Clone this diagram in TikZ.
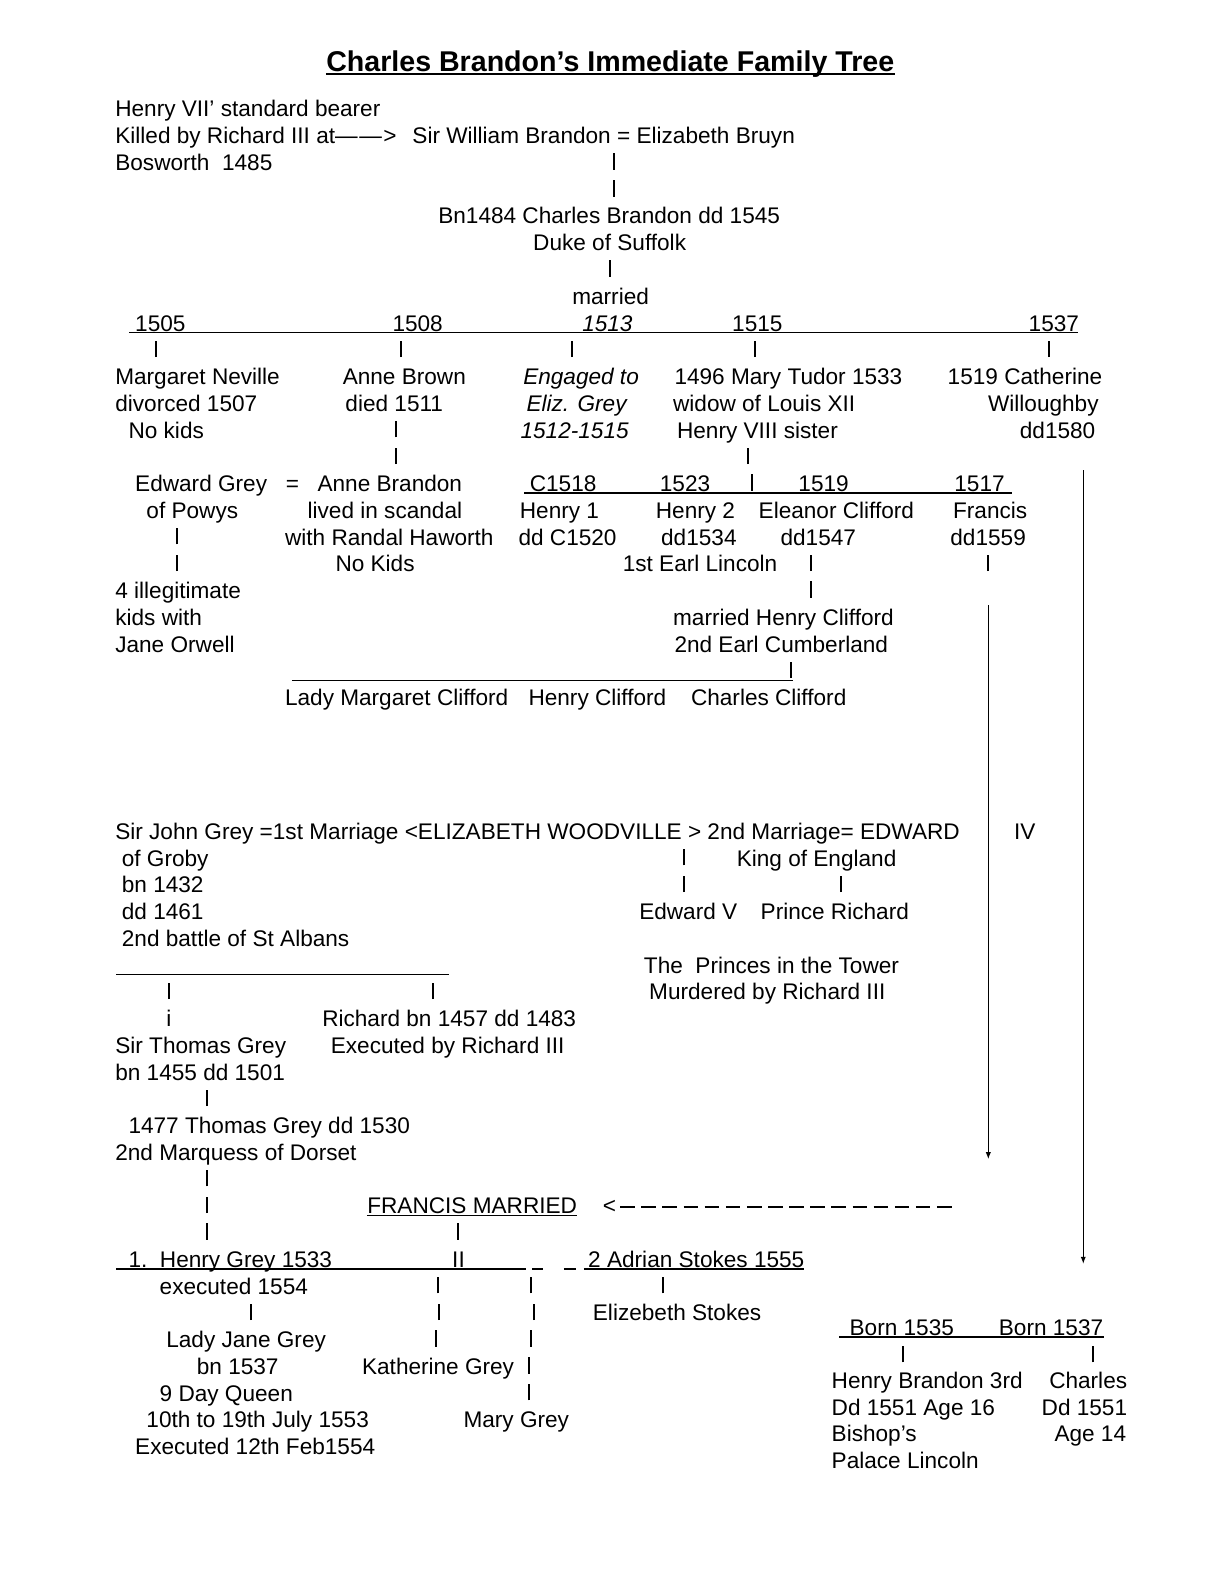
\documentclass[tikz,border=0pt]{standalone}
\usepackage{fontspec}
\setmainfont{Liberation Sans}
\usetikzlibrary{arrows.meta}
\newcommand\sorfont{\fontsize{11.3pt}{13.4pt}\selectfont}
\tikzset{
  txt/.style={anchor=base west,inner sep=0pt,xshift=-0.6pt},
  txtr/.style={anchor=base east,inner sep=0pt,xshift=0.6pt},
  itxt/.style={txt,font=\sorfont\itshape},
  vbar/.style={line width=1pt},
  uln/.style={line width=0.75pt},
  downarr/.style={line width=0.5pt,-{Latex[length=3.5pt,width=2.6pt]}},
  dashln/.style={line width=0.8pt,dash pattern=on 7.31pt off 3.25pt},
}
\begin{document}
\begin{tikzpicture}[x=0.4975pt,y=-13.375pt,font=\sorfont]
  \useasboundingbox (0pt,58.5pt) rectangle (612pt,-733.5pt);
  % title
  \node[txt,font=\fontsize{14.3pt}{17pt}\selectfont\bfseries] (cim) at (328.7,-1.716)
    {Charles Brandon’s Immediate Family Tree};
  \draw[line width=0.9pt] ([yshift=-1.3pt]cim.base west) -- ([yshift=-1.3pt]cim.base east);

  % Brandon line
  \node[txt] (hb) at (116.7,0) {Henry VII’ standard bearer};
  \node[txt] (kb) at (116.7,1) {Killed by Richard III at—\kern0.8pt—\kern0.8pt>};
  \node[txt] (wb) at (415.3,1) {Sir William Brandon = Elizabeth Bruyn};
  \node[txt] (bw) at (116.7,2) {Bosworth\ \ 1485};
  \node[txt] (cb) at (441.3,4) {Bn1484 Charles Brandon dd 1545};
  \node[txt] (ds) at (536.7,5) {Duke of Suffolk};
  \node[txt] (mar) at (576,7) {married};

  % wives
  \node[txt] (w1505) at (136.7,8) {1505};
  \node[txt] (w1508) at (395.3,8) {1508};
  \node[itxt] (w1513) at (586,8) {1513};
  \node[txt] (w1515) at (736.7,8) {1515};
  \node[txt] (w1537) at (1034.7,8) {1537};
  \node[txt] (mn1) at (116.7,10) {Margaret Neville};
  \node[txt] (mn2) at (116.7,11) {divorced 1507};
  \node[txt] (mn3) at (130,12) {No kids};
  \node[txt] (ab1) at (345.3,10) {Anne Brown};
  \node[txt] (ab2) at (348,11) {died 1511};
  \node[itxt] (eg1) at (526.7,10) {Engaged to};
  \node[itxt] (eg2) at (530,11) {Eliz. Grey};
  \node[itxt] (eg3) at (524,12) {1512-1515};
  \node[txt] (mt1) at (678.7,10) {1496 Mary Tudor 1533};
  \node[txt] (mt2) at (677.3,11) {widow of Louis XII};
  \node[txt] (mt3) at (681.3,12) {Henry VIII sister};
  \node[txt] (cw1) at (953.3,10) {1519 Catherine};
  \node[txtr] (cw2) at (1103.3,11) {Willoughby};
  \node[txtr] (cw3) at (1100,12) {dd1580};

  % children
  \node[txt] (edg1) at (136.7,14) {Edward Grey};
  \node[txt] (eq) at (288,14) {=};
  \node[txt] (an1) at (320,14) {Anne Brandon};
  \node[txt] (edg2) at (148,15) {of Powys};
  \node[txt] (an2) at (310,15) {lived in scandal};
  \node[txt] (an3) at (287.3,16) {with Randal Haworth};
  \node[txt] (an4) at (338,17) {No Kids};
  \node[txt] (c1518) at (533.3,14) {C1518};
  \node[txt] (c1523) at (664,14) {1523};
  \node[txt] (c1519) at (803.3,14) {1519};
  \node[txt] (c1517) at (960,14) {1517};
  \node[txt] (ha1) at (523.3,15) {Henry 1};
  \node[txt] (ha2) at (522,16) {dd C1520};
  \node[txt] (hb1) at (660,15) {Henry 2};
  \node[txt] (hb2) at (665.3,16) {dd1534};
  \node[txt] (hb3) at (626.7,17) {1st Earl Lincoln};
  \node[txt] (ec1) at (763.3,15) {Eleanor Clifford};
  \node[txt] (ec2) at (785.3,16) {dd1547};
  \node[txt] (fr1) at (958.7,15) {Francis};
  \node[txt] (fr2) at (956,16) {dd1559};
  \node[txt] (ik1) at (116.7,18) {4 illegitimate};
  \node[txt] (ik2) at (116.7,19) {kids with};
  \node[txt] (ik3) at (116.7,20) {Jane Orwell};
  \node[txt] (hc1) at (677.3,19) {married Henry Clifford};
  \node[txt] (hc2) at (678.7,20) {2nd Earl Cumberland};
  \node[txt] (lmc) at (287.3,22) {Lady Margaret Clifford};
  \node[txt] (hcl) at (532,22) {Henry Clifford};
  \node[txt] (ccl) at (695.3,22) {Charles Clifford};

  % Woodville / Grey
  \node[txt] (ew) at (116.7,27) {Sir John Grey =1st Marriage <ELIZABETH WOODVILLE > 2nd Marriage= EDWARD};
  \node[txt] (iv) at (1020,27) {IV};
  \node[txt] (jg2) at (123.3,28) {of Groby};
  \node[txt] (jg3) at (123.3,29) {bn 1432};
  \node[txt] (jg4) at (123.3,30) {dd 1461};
  \node[txt] (jg5) at (123.3,31) {2nd battle of St Albans};
  \node[txt] (ke) at (741.3,28) {King of England};
  \node[txt] (e5) at (643.3,30) {Edward V};
  \node[txt] (pr) at (765.3,30) {Prince Richard};
  \node[txt] (pt1) at (648,32) {The\ \ Princes in the Tower};
  \node[txt] (pt2) at (653.3,33) {Murdered by Richard III};
  \node[txt] (ii) at (168,34) {i};
  \node[txt] (rg1) at (324.7,34) {Richard bn 1457 dd 1483};
  \node[txt] (rg2) at (333.3,35) {Executed by Richard III};
  \node[txt] (tg1) at (116.7,35) {Sir Thomas Grey};
  \node[txt] (tg2) at (116.7,36) {bn 1455 dd 1501};
  \node[txt] (tg3) at (130,38) {1477 Thomas Grey dd 1530};
  \node[txt] (tg4) at (116.7,39) {2nd Marquess of Dorset};
  \node[txt] (fm) at (370,41) {FRANCIS MARRIED};
  \node[txt] (lt) at (606.7,41) {<};
  \node[txt] (hg1) at (130,43) {1.\ \ Henry Grey 1533};
  \node[txt] (two) at (455.3,43) {II};
  \node[txt] (as1) at (592,43) {2 Adrian Stokes 1555};
  \node[txt] (hg2) at (161.3,44) {executed 1554};
  \node[txt] (es) at (596.7,45) {Elizebeth Stokes};
  \node[txt] (lj1) at (168,46) {Lady Jane Grey};
  \node[txt] (lj2) at (198.7,47) {bn 1537};
  \node[txt] (lj3) at (161.3,48) {9 Day Queen};
  \node[txt] (lj4) at (148,49) {10th to 19th July 1553};
  \node[txt] (lj5) at (136.7,50) {Executed 12th Feb1554};
  \node[txt] (kg) at (364.7,47) {Katherine Grey};
  \node[txt] (mg) at (466.7,49) {Mary Grey};

  % sons of Catherine
  \node[txt] (b35) at (854.7,45.55) {Born 1535};
  \node[txt] (b37) at (1004.7,45.55) {Born 1537};
  \node[txt] (hs1) at (836.7,47.54) {Henry Brandon 3rd};
  \node[txt] (hs2) at (836.7,48.54) {Dd 1551 Age 16};
  \node[txt] (hs3) at (836.7,49.53) {Bishop’s};
  \node[txt] (hs4) at (836.7,50.53) {Palace Lincoln};
  \node[txtr] (cs1) at (1132,47.54) {Charles};
  \node[txtr] (cs2) at (1132,48.54) {Dd 1551};
  \node[txtr] (cs3) at (1131,49.53) {Age 14};

  % bars
  \foreach \x/\r in {617.3/2,617.3/3,613.3/6,156.7/9,403.3/9,574.7/9,758.7/9,1054.7/9,
      398/12,398/13,752/13,755.3/14,178/16,178/17,814.7/17,993.3/17,814.7/18,795.3/21,
      687.3/28,687.3/29,845.3/29,170/33,434.7/33,208/37,208/40,208/41,208/42,460/42,
      440/44,533.3/44,666.7/44,252/45,441.3/45,536.7/45,438/46,533.3/46,531.3/47,
      531.3/48,908/46.58,1098/46.58}
    \draw[vbar] (\x,\r-0.02) -- ++(0,-0.62);

  % lines
  \foreach \a/\b/\r in {130/1083.3/8,526.7/1016.7/14,293.3/796.7/21,116.7/451.3/32,
      116.7/528.7/43,534.7/545.3/43,566.7/578.7/43,586.7/808/43,843.3/1110/45.55}
    \draw[uln] (\a,\r+0.06) -- (\b,\r+0.06);
  \draw[uln] ([yshift=-0.8pt]fm.base west) -- ([yshift=-0.8pt]fm.base east);

  \coordinate (cwtop) at (1088.7,13.2);
  \coordinate (cwend) at (1088.7,42.87);
  \coordinate (frtop) at (993.3,18.25);
  \coordinate (frend) at (993.3,38.96);
  \draw[downarr] (cwtop) -- (cwend);
  \draw[downarr] (frtop) -- (frend);
  \coordinate (dk) at (623.3,40.74);
  \coordinate (dv) at (956.7,40.74);
  \draw[dashln] (dk) -- (dv);
\end{tikzpicture}
\end{document}
